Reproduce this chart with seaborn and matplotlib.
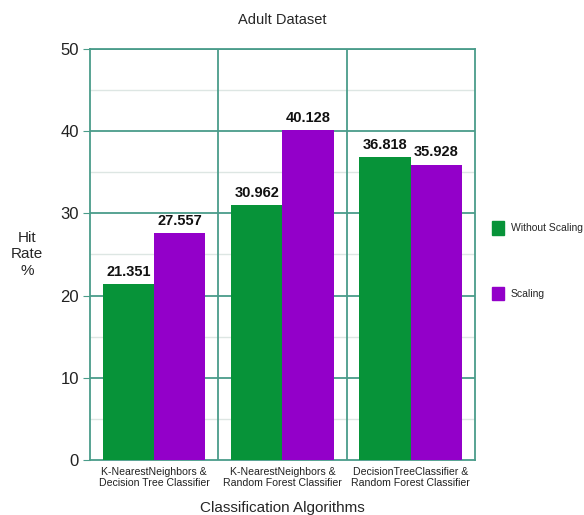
import pandas as pd
import matplotlib.pyplot as plt
import seaborn as sns
from matplotlib.patches import Patch

categories = ["K-NearestNeighbors &\nDecision Tree Classifier",
              "K-NearestNeighbors &\nRandom Forest Classifier",
              "DecisionTreeClassifier &\nRandom Forest Classifier"]
without_scaling = [21.351, 30.962, 36.818]
scaling = [27.557, 40.128, 35.928]
series = ["Without Scaling", "Scaling"]
colors = ["#079339", "#9300c9"]

df = pd.DataFrame({
    "algo": categories * 2,
    "rate": without_scaling + scaling,
    "series": [series[0]] * 3 + [series[1]] * 3,
})

sns.set_style("white")
plt.rcParams['font.family'] = ['Liberation Sans', 'DejaVu Sans']

fig = plt.figure(figsize=(5.84, 5.15), dpi=100)
ax = fig.add_axes([0.154, 0.107, 0.659, 0.798])

sns.barplot(data=df, x="algo", y="rate", hue="series", palette=colors,
            width=0.8, saturation=1, linewidth=0, ax=ax, legend=False, zorder=3)

grid_c = "#4a9c8a"
ax.set_ylim(0, 50)
ax.set_xlim(-0.5, 2.5)
for y in range(5, 50, 10):
    ax.axhline(y, color="#dde6e3", lw=1, zorder=1)
for y in range(10, 51, 10):
    ax.axhline(y, color=grid_c, lw=1.3, zorder=1)
for x in [0.5, 1.5]:
    ax.axvline(x, color=grid_c, lw=1.3, zorder=1)
for s in ax.spines.values():
    s.set_color(grid_c)
    s.set_linewidth(1.3)

ax.set_yticks(range(0, 51, 10))
ax.tick_params(axis="y", length=5, color=grid_c, labelsize=12, pad=3, left=True,
               labelcolor="#222222")
ax.tick_params(axis="x", length=0, labelsize=7.6, pad=5)
ax.set_xticks([0, 1, 2])
ax.set_xticklabels(categories, color="#222222")

for cont in ax.containers:
    ax.bar_label(cont, fmt="%.3f", padding=4, fontsize=10.5, fontweight="bold",
                 color="#111111")

ax.set_xlabel("Classification Algorithms", fontsize=11, labelpad=9)
ax.set_ylabel("Hit\nRate\n%", fontsize=11, rotation=0, labelpad=24, va="center")
ax.set_title("Adult Dataset", fontsize=10.5, pad=18)

handles = [Patch(color=c, label=l) for c, l in zip(colors, series)]
ax.legend(handles=handles, loc="center left", bbox_to_anchor=(1.02, 0.485),
          frameon=False, labelspacing=5.0, handlelength=1.2, handleheight=1.6,
          handletextpad=0.6, fontsize=7.5)

fig.savefig("out.png", dpi=100)
